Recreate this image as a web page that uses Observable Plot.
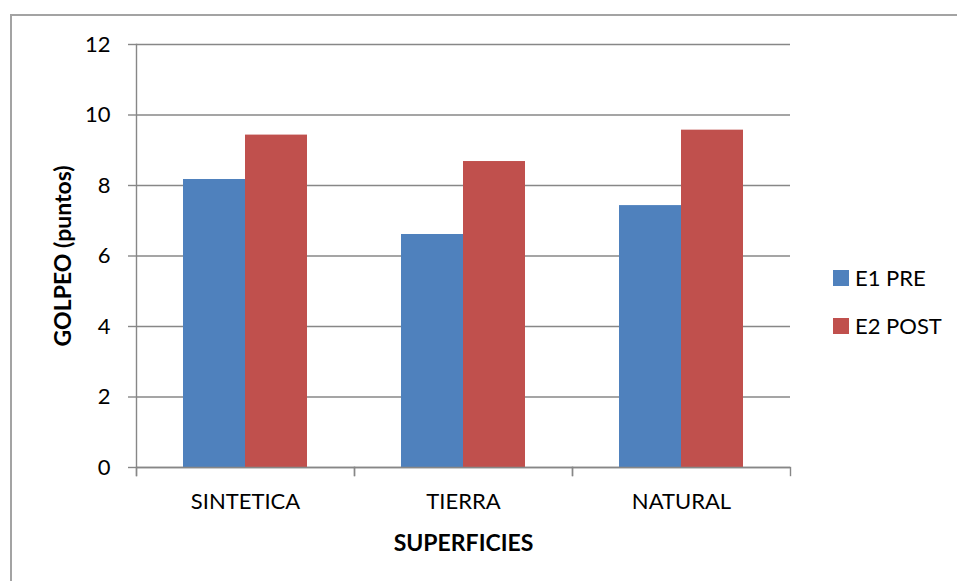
<!DOCTYPE html>
<html>
<head>
<meta charset="utf-8">
<script src="https://cdn.jsdelivr.net/npm/d3@7"></script>
<script src="https://cdn.jsdelivr.net/npm/@observablehq/plot@0.6"></script>
<style>
  html, body { margin: 0; padding: 0; background: #fff; overflow: hidden; }
  #wrap { position: relative; width: 957px; height: 581px; overflow: hidden; font-family: Lato, "Open Sans", sans-serif; }
  #border { position: absolute; left: 10px; top: 14px; width: 1200px; height: 1200px; border: 2px solid #a3a3a3; box-sizing: border-box; }
  #chart { position: absolute; left: 0; top: 0; }
  .legend { position: absolute; left: 833px; font-size: 22px; line-height: 26px; color: #000; display: flex; align-items: center; }
  .legend span.sw { display: inline-block; width: 16px; height: 16px; margin-right: 6px; }
  svg g[aria-label="fx-axis label"] text, svg g[aria-label="y-axis label"] text { font-weight: bold; font-size: 23px; }
</style>
</head>
<body>
<div id="wrap">
  <div id="border"></div>
  <div id="chart"></div>
  <div id="legend"></div>
</div>
<script>
const categories = ["SINTETICA", "TIERRA", "NATURAL"];
const series = ["E1 PRE", "E2 POST"];
const e1Values = [8.17, 6.61, 7.43];
const e2Values = [9.43, 8.68, 9.57];
const yTicks = [0, 2, 4, 6, 8, 10, 12];
const colors = ["#4F81BD", "#C0504D"];

const data = categories.flatMap((c, i) => [
  {cat: c, serie: series[0], value: e1Values[i]},
  {cat: c, serie: series[1], value: e2Values[i]}
]);

const gridColor = "#878787";

const chart = Plot.plot({
  width: 957,
  height: 581,
  marginTop: 44,
  marginLeft: 136,
  marginRight: 167,
  marginBottom: 114,
  style: {fontFamily: "Lato, 'Open Sans', sans-serif", fontSize: "22px", color: "#000", background: "transparent"},
  fx: {domain: categories, padding: 0},
  x: {domain: series, paddingInner: 0, paddingOuter: 0.758, axis: null},
  y: {domain: [0, 12], axis: null},
  color: {domain: series, range: colors},
  marks: [
    Plot.gridY(yTicks, {stroke: gridColor, strokeOpacity: 1, strokeWidth: 1.4}),
    Plot.barY(data, {fx: "cat", x: "serie", y: "value", fill: "serie"}),
    Plot.ruleY([0], {stroke: gridColor, strokeWidth: 1.4}),
    Plot.frame({anchor: "left", facetAnchor: "left", stroke: gridColor, strokeWidth: 1.4, insetBottom: -8}),
    Plot.frame({anchor: "left", stroke: gridColor, strokeWidth: 1.4, insetTop: 423, insetBottom: -8}),
    Plot.frame({anchor: "right", stroke: gridColor, strokeWidth: 1.4, insetTop: 423, insetBottom: -8}),
    Plot.axisY(yTicks, {tickSize: 8, tickPadding: 18, stroke: gridColor, strokeWidth: 1.4, label: "GOLPEO (puntos)", labelAnchor: "center", labelOffset: 82, labelArrow: "none"}),
    Plot.axisFx({anchor: "bottom", tickSize: 0, tickPadding: 26, label: "SUPERFICIES", labelAnchor: "center", labelOffset: 83, labelArrow: "none"})
  ]
});
document.getElementById("chart").appendChild(chart);

const legend = document.getElementById("legend");
const legendTops = [265, 313];
series.forEach((s, i) => {
  const d = document.createElement("div");
  d.className = "legend";
  d.style.top = legendTops[i] + "px";
  d.innerHTML = `<span class="sw" style="background:${colors[i]}"></span><span>${s}</span>`;
  legend.appendChild(d);
});
</script>
</body>
</html>
